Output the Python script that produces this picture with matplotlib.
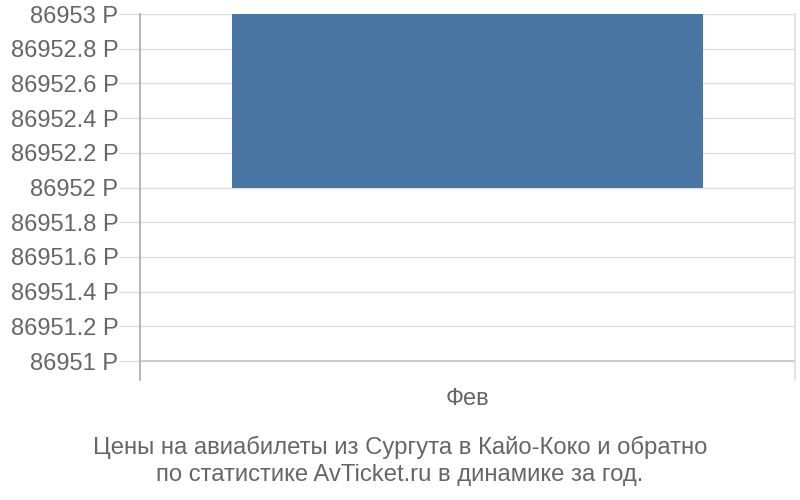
import matplotlib
matplotlib.use("Agg")
import matplotlib.pyplot as plt
import numpy as np

plt.rcParams['font.family'] = ['Liberation Sans', 'DejaVu Sans']

categories = ["Фев"]
values = [86953]
base_value = 86952
yticks = [86951, 86951.2, 86951.4, 86951.6, 86951.8, 86952, 86952.2, 86952.4, 86952.6, 86952.8, 86953]
title_lines = ["Цены на авиабилеты из Сургута в Кайо-Коко и обратно",
               "по статистике AvTicket.ru в динамике за год."]

W, H = 800, 500
fig = plt.figure(figsize=(W/100, H/100), dpi=100)
# plot area: x 140..795, y top 14, bottom axis 380
ax = fig.add_axes([140/W, 1-380/H, (795-140)/W, (380-14)/H])

x = np.arange(len(categories))
ax.bar(x, [v - base_value for v in values], bottom=base_value, width=0.72,
       color='#4a76a4', zorder=3)
ax.set_xlim(-0.5, 0.5)
ymin = 86951 - (380-361)/(361-14)*2
ax.set_ylim(ymin, 86953)

ax.set_yticks(yticks)
ax.set_yticklabels([f"{t:g} Р" for t in yticks], fontsize=17, color='#666666')
ax.tick_params(axis='y', length=15, width=1, color='#dddddd', pad=0.5)
for t in yticks:
    ax.axhline(t, color='#dddddd', lw=1, zorder=1)
ax.axhline(86951, color='#cccccc', lw=1.3, zorder=1)

ax.set_xticks(x)
ax.set_xticklabels(categories, fontsize=17, color='#666666')
ax.tick_params(axis='x', length=0, pad=6)

for s in ['top', 'bottom']:
    ax.spines[s].set_visible(False)
ax.spines['left'].set_color('#aaaaaa')
ax.spines['left'].set_linewidth(1.2)
ax.spines['right'].set_color('#dddddd')
ax.spines['right'].set_linewidth(1.2)

for i, (line, ypx) in enumerate(zip(title_lines, [447, 475])):
    fig.text(0.5, 1-ypx/H, line, ha='center', va='center', fontsize=17.2,
             color='#666666')

fig.savefig("out.png", dpi=100)
